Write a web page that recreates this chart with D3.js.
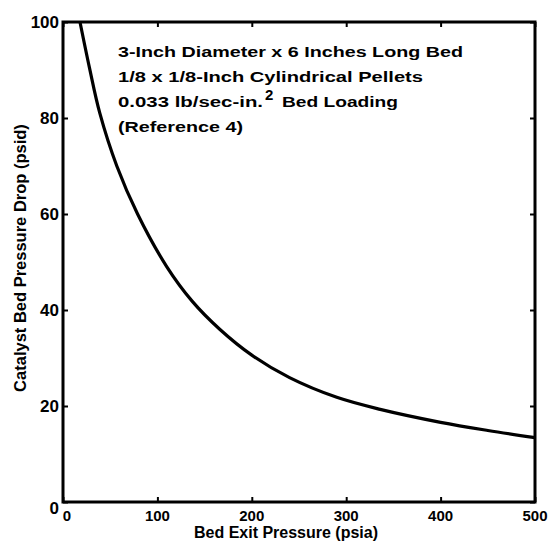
<!DOCTYPE html>
<html>
<head>
<meta charset="utf-8">
<script src="https://cdn.jsdelivr.net/npm/d3@7"></script>
<style>
  body { margin: 0; background: #fff; }
  text { font-family: "Liberation Sans", Arial, sans-serif; font-weight: bold; fill: #000; }
</style>
</head>
<body>
<div id="chart"></div>
<script>
// exit pressure (psia) vs bed pressure drop (psid)
const exitPressure = [18, 28, 39, 57, 79, 110, 137, 166, 200, 240, 290, 336, 400, 450, 500];
const pressureDrop = [100, 90.5, 81, 70, 60, 49, 41.8, 36, 30.6, 25.9, 21.8, 19.3, 16.6, 14.9, 13.4];
const xTicks = [0, 100, 200, 300, 400, 500];
const xTickLabels = ["0", "100", "200", "300", "400", "500"];
const yTicks = [0, 20, 40, 60, 80, 100];
const yTickLabels = ["0", "20", "40", "60", "80", "100"];
const notes = [
    "3-Inch Diameter x 6 Inches Long Bed",
    "1/8 x 1/8-Inch Cylindrical Pellets",
    "0.033 lb/sec-in.",
    "(Reference 4)"
];

const width = 555;
const height = 549;
const margin = {top: 22, right: 20, bottom: 47, left: 63};

const svg = d3.select("#chart")
    .append("svg")
    .attr("width", width)
    .attr("height", height);

const x = d3.scaleLinear()
    .domain([0, 500])
    .range([margin.left, width - margin.right]);

const y = d3.scaleLinear()
    .domain([0, 100])
    .range([height - margin.bottom, margin.top]);

// ticks on all four sides, pointing inward
svg.append("g")
    .attr("transform", `translate(0, ${y(0)})`)
    .call(d3.axisBottom(x).tickValues(xTicks).tickSizeInner(-5).tickSizeOuter(0).tickFormat(""))
    .call(g => g.select(".domain").remove());
svg.append("g")
    .attr("transform", `translate(0, ${y(100)})`)
    .call(d3.axisTop(x).tickValues(xTicks).tickSizeInner(-5).tickSizeOuter(0).tickFormat(""))
    .call(g => g.select(".domain").remove());
svg.append("g")
    .attr("transform", `translate(${x(0)}, 0)`)
    .call(d3.axisLeft(y).tickValues(yTicks).tickSizeInner(-5).tickSizeOuter(0).tickFormat(""))
    .call(g => g.select(".domain").remove());
svg.append("g")
    .attr("transform", `translate(${x(500)}, 0)`)
    .call(d3.axisRight(y).tickValues(yTicks).tickSizeInner(-5).tickSizeOuter(0).tickFormat(""))
    .call(g => g.select(".domain").remove());
svg.selectAll(".tick line").attr("stroke", "#000").attr("stroke-width", 2);

// frame
svg.append("rect")
    .attr("x", x(0))
    .attr("y", y(100))
    .attr("width", x(500) - x(0))
    .attr("height", y(0) - y(100))
    .attr("fill", "none")
    .attr("stroke", "#000")
    .attr("stroke-width", 3);

// tick labels
svg.append("g").selectAll("text")
    .data(xTicks)
    .join("text")
    .attr("x", (d, i) => i == 0 ? x(d) + 4 : x(d))
    .attr("y", y(0) + 19)
    .attr("text-anchor", "middle")
    .attr("font-size", 15)
    .text((d, i) => xTickLabels[i]);

svg.append("g").selectAll("text")
    .data(yTicks)
    .join("text")
    .attr("x", x(0) - 4)
    .attr("y", (d, i) => i == 0 ? y(d) + 12 : y(d) + 6)
    .attr("text-anchor", "end")
    .attr("font-size", 17)
    .text((d, i) => yTickLabels[i]);

// axis titles
svg.append("text")
    .attr("x", (x(0) + x(500)) / 2 - 13)
    .attr("y", 538)
    .attr("text-anchor", "middle")
    .attr("font-size", 16)
    .text("Bed Exit Pressure (psia)");

svg.append("text")
    .attr("transform", `translate(26, 258) rotate(-90)`)
    .attr("text-anchor", "middle")
    .attr("font-size", 16.5)
    .text("Catalyst Bed Pressure Drop (psid)");

// annotation
const noteWidths = [345, 305, 145, 125];
svg.append("g").selectAll("text")
    .data(notes)
    .join("text")
    .attr("x", 118)
    .attr("y", (d, i) => 57 + i * 25)
    .attr("font-size", 14.5)
    .attr("textLength", (d, i) => noteWidths[i])
    .attr("lengthAdjust", "spacingAndGlyphs")
    .text(d => d);
svg.append("text")
    .attr("x", 265)
    .attr("y", 100)
    .attr("font-size", 15)
    .text("2");
svg.append("text")
    .attr("x", 282)
    .attr("y", 107)
    .attr("font-size", 14.5)
    .attr("textLength", 116)
    .attr("lengthAdjust", "spacingAndGlyphs")
    .text("Bed Loading");

// curve
const line = d3.line()
    .x((d, i) => x(exitPressure[i]))
    .y(d => y(d))
    .curve(d3.curveCatmullRom.alpha(0.5));

svg.append("path")
    .datum(pressureDrop)
    .attr("d", line)
    .attr("fill", "none")
    .attr("stroke", "#000")
    .attr("stroke-width", 3.2);
</script>
</body>
</html>
